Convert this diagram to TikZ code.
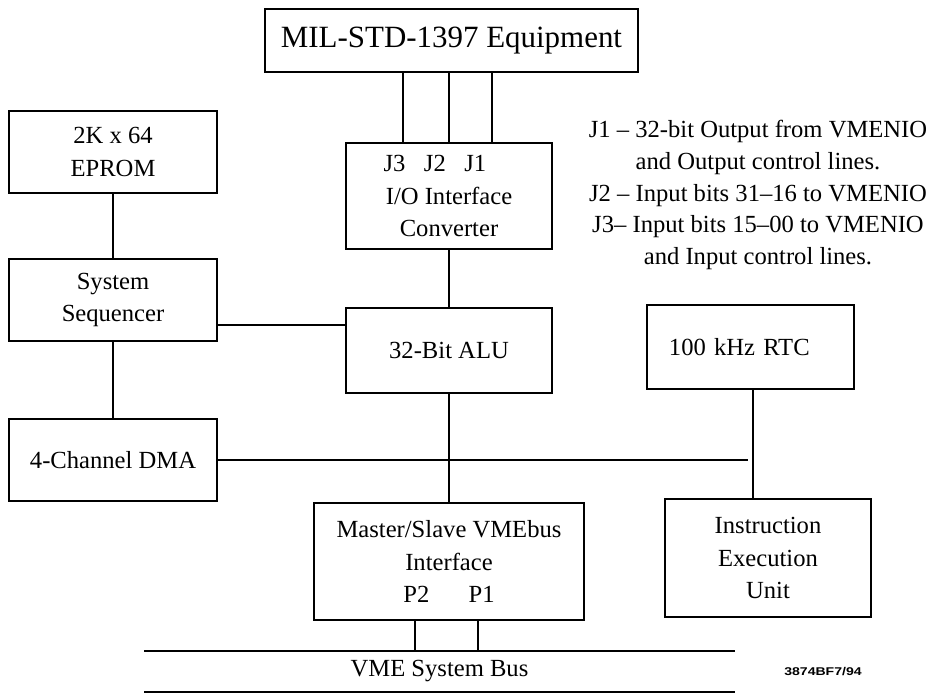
\documentclass[tikz,border=0pt]{standalone}
\usepackage{fontspec}
\setmainfont{Liberation Serif}
\setsansfont{Liberation Sans}
\usepackage{graphicx}

\begin{document}
\begin{tikzpicture}[x=0.025cm,y=-0.025cm,line width=1.3pt,
  blk/.style={draw,line width=1.3pt,align=center,inner sep=0pt,
    minimum width=5.15cm,minimum height=2.05cm,
    font=\fontsize{17.5}{23}\selectfont}]
\useasboundingbox (0,0) rectangle (930,694);
% equipment and converter
\node[blk,minimum width=9.325cm,minimum height=1.575cm,
  font=\fontsize{22}{26}\selectfont] (equip) at (451.5,40.5) {MIL-STD-1397 Equipment};
\node[blk,minimum height=2.65cm] (conv) at (449,196)
  {J3\hspace{0.75em}J2\hspace{0.75em}J1\kern20pt\\I/O Interface\\Converter};
\node[blk,minimum height=2.125cm] (alu) at (449,350.5) {32-Bit ALU};
% left column
\node[blk,minimum width=5.2cm] (eprom) at (113,152) {2K x 64\\EPROM};
\node[blk,minimum width=5.2cm] (seq) at (113,300) {System\\Sequencer};
\node[blk,minimum width=5.2cm] (dma) at (113,460) {4-Channel DMA};
% right column
\node[blk,minimum width=5.175cm,minimum height=2.1cm,align=left,
  text width=4.075cm,inner xsep=0.55cm] (rtc) at (750.5,347) {100 kHz RTC};
\node[blk,minimum height=2.95cm] (iexec) at (768,558) {Instruction\\Execution\\Unit};
\node[blk,minimum width=6.75cm,minimum height=2.925cm] (vme) at (449,561.5)
  {Master/Slave VMEbus\\Interface\\P2\hspace{1.6em}P1};
% connector notes
\node[align=center,font=\fontsize{17.5}{22.5}\selectfont] (notes) at (758,195)
  {J1 -- 32-bit Output from VMENIO\\and Output control lines.\\
   J2 -- Input bits 31--16 to VMENIO\\J3-- Input bits 15--00 to VMENIO\\
   and Input control lines.};
% bus
\node[inner sep=0pt,minimum width=14.725cm,minimum height=0.975cm,
  font=\fontsize{17.5}{23}\selectfont] (bus) at (439.5,671.5) {VME System Bus};
\draw (bus.north west) -- (bus.north east);
\draw (bus.south west) -- (bus.south east);
\node[font=\fontsize{8}{10}\selectfont\sffamily\bfseries] (dwg) at (823,672)
  {\scalebox{1.25}[1]{3874BF7/94}};
% J1, J2, J3
\draw ([xshift=-1.15cm]conv.north) -- ([xshift=-1.15cm]conv.north |- equip.south);
\draw (conv.north) -- (conv.north |- equip.south);
\draw ([xshift=1.075cm]conv.north) -- ([xshift=1.075cm]conv.north |- equip.south);
\draw (conv) -- (alu);
\draw (eprom) -- (seq);
\draw (seq) -- (dma);
\draw ([yshift=-0.625cm]seq.east) -- ([yshift=-0.625cm]seq.east -| alu.west);
% DMA line stops short of the RTC line
\coordinate (dmaend) at (748,457);
\draw (dma.east) -- (dma.east -| dmaend);
\draw (alu) -- (vme);
\draw ([xshift=0.0625cm]rtc.south) -- ([xshift=0.0625cm]rtc.south |- iexec.north);
% P2, P1
\draw ([xshift=-0.85cm]vme.south) -- ([xshift=-0.85cm]vme.south |- bus.north);
\draw ([xshift=0.725cm]vme.south) -- ([xshift=0.725cm]vme.south |- bus.north);
\end{tikzpicture}
\end{document}
